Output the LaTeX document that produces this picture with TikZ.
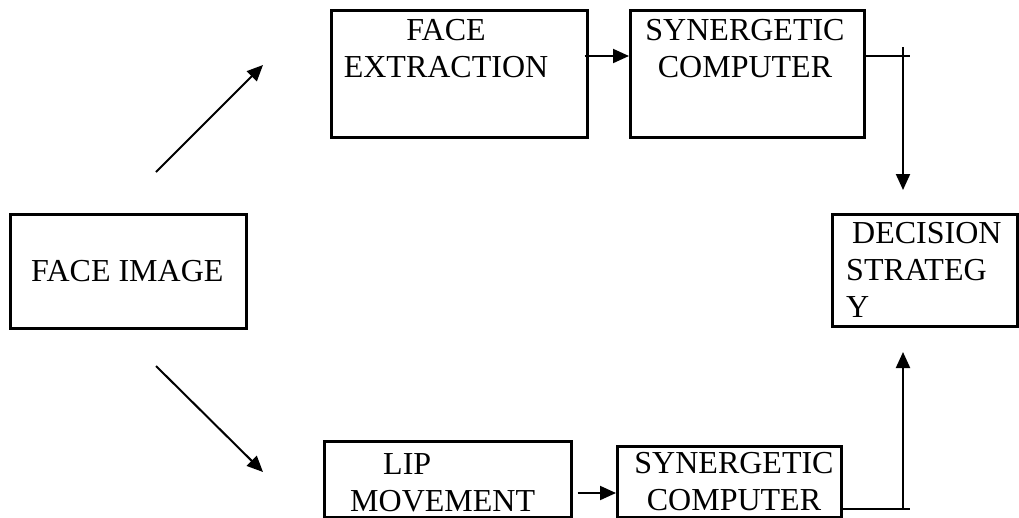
\documentclass[tikz,border=0pt]{standalone}
\usepackage{fontspec}
\setmainfont{Liberation Serif}
\usetikzlibrary{arrows.meta}
\begin{document}
\begin{tikzpicture}[x=1pt,y=-1pt,
  box/.style={draw, line width=2.6pt, inner sep=0pt, anchor=north west},
  lbl/.style={font=\fontsize{32}{37}\selectfont, inner sep=0pt},
  conn/.style={line width=2pt},
  arr/.style={conn, -{Triangle[length=16pt,width=14pt]}}]
\useasboundingbox (0,0) rectangle (1019,517);

% boxes, with their labels placed by the baseline of the last line
\node[box, minimum width=236pt, minimum height=114pt] (fi) at (9,213) {};
\node[lbl, anchor=base west] (fit) at (31,281) {FACE IMAGE};

\node[box, minimum width=256pt, minimum height=127pt] (fe) at (330,9) {};
\node[lbl, align=center, anchor=base] (fet) at (446,77) {FACE\\EXTRACTION};

\node[box, minimum width=234pt, minimum height=127pt] (sc1) at (629,9) {};
\node[lbl, align=center, anchor=base] (sc1t) at (745,77) {SYNERGETIC\\COMPUTER};

\node[box, minimum width=185pt, minimum height=112pt] (ds) at (831,213) {};
\node[lbl, align=left, anchor=base west] (dst) at (846,317) {\hspace{6pt}DECISION\\STRATEG\\Y};

\node[box, minimum width=247pt, minimum height=76pt] (lm) at (323,440) {};
\node[lbl, align=left, anchor=base west] (lmt) at (350,511) {\hspace{33pt}LIP\\MOVEMENT};

\node[box, minimum width=224pt, minimum height=71pt] (sc2) at (616,445) {};
\node[lbl, align=center, anchor=base] (sc2t) at (734,510) {SYNERGETIC\\COMPUTER};

% connectors
\coordinate (d1s) at (156,172); \coordinate (d1e) at (263,65);
\draw[arr] (d1s) -- (d1e);
\coordinate (d2s) at (156,366); \coordinate (d2e) at (263,472);
\draw[arr] (d2s) -- (d2e);

\draw[arr] ([xshift=-4pt,yshift=-47pt]fe.north east) -- ([yshift=-47pt]sc1.north west);
\coordinate (j1) at (910,56);
\draw[conn] ([yshift=-47pt]sc1.north east) -- (j1);
\coordinate (v1s) at (903,47); \coordinate (v1e) at (903,190);
\draw[arr] (v1s) -- (v1e);

\draw[arr] ([xshift=5pt,yshift=-53pt]lm.north east) -- ([yshift=-48pt]sc2.north west);
\coordinate (j2) at (910,509);
\draw[conn] ([yshift=-64pt]sc2.north east) -- (j2);
\coordinate (v2s) at (903,509); \coordinate (v2e) at (903,352);
\draw[arr] (v2s) -- (v2e);
\end{tikzpicture}
\end{document}
